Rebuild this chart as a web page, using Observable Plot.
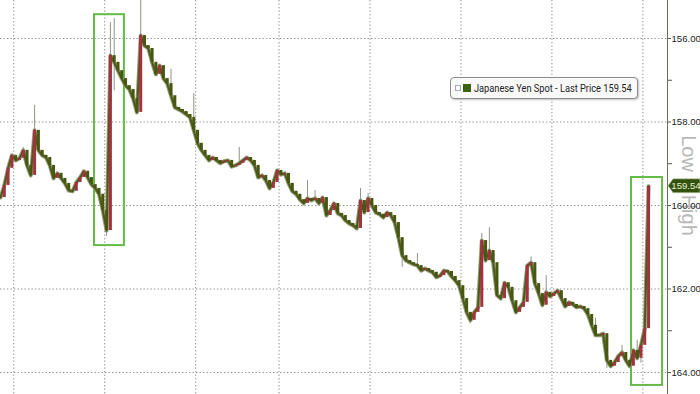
<!DOCTYPE html>
<html>
<head>
<meta charset="utf-8">
<script src="https://cdn.jsdelivr.net/npm/d3@7"></script>
<script src="https://cdn.jsdelivr.net/npm/@observablehq/plot@0.6"></script>
<style>
  html, body { margin: 0; padding: 0; background: #fff; }
  #wrap { position: relative; width: 700px; height: 394px; overflow: hidden; }
  #legend {
    position: absolute; left: 450px; top: 77px; width: 186px; height: 20px;
    border: 1px solid #8c8c8c; border-radius: 4px; background: #f9f9f9;
    box-shadow: 1px 1px 2px rgba(0,0,0,0.25);
    font-family: Roboto, "Liberation Sans", sans-serif; color: #222;
    display: flex; align-items: center; white-space: nowrap; overflow: hidden;
  }
  #legend .plus { flex: none; width: 4px; height: 4px; border: 1px solid #aaa; margin-left: 4px; margin-right: 2px; }
  #legend .sw { flex: none; width: 8px; height: 8px; background: #3a640c; margin-right: 3px; }
  #legend .tx { flex: none; font-size: 11px; transform: scaleX(0.84); transform-origin: left center; }
</style>
</head>
<body>
<div id="wrap"></div>
<script>
// Japanese Yen Spot (USDJPY), hourly closes (hour index 0..171)
const closes = [
  159.81,159.52,159.11,158.80,158.92,158.87,158.68,159.04,159.28,158.20,
  158.68,158.80,158.85,159.04,159.35,159.23,159.35,159.47,159.64,159.66,
  159.45,159.33,159.18,159.33,159.50,159.59,159.73,160.12,160.60,156.41,
  156.57,156.77,156.96,157.13,157.22,157.44,157.77,155.93,156.17,156.24,
  156.57,156.86,156.65,156.96,157.08,157.37,157.65,157.70,157.75,157.82,
  157.89,158.20,158.51,158.68,158.80,158.92,158.85,158.92,158.99,158.94,
  158.92,159.07,159.04,158.99,158.92,158.85,158.92,159.04,159.33,159.28,
  159.40,159.59,159.45,159.16,159.26,159.23,159.47,159.66,159.73,159.86,
  159.95,159.83,159.88,159.83,159.95,159.81,160.24,160.12,159.95,160.19,
  160.24,160.36,160.43,160.48,160.55,159.88,160.17,159.83,160.00,160.17,
  160.21,160.29,160.17,160.24,160.41,160.77,161.20,161.32,161.37,161.41,
  161.44,161.56,161.51,161.56,161.60,161.72,161.68,161.56,161.58,161.70,
  161.80,161.92,162.23,162.56,162.75,162.56,162.44,160.84,161.32,161.08,
  161.37,162.15,162.23,161.85,161.96,162.28,162.56,162.44,162.32,161.44,
  161.37,161.87,162.11,162.39,162.08,162.18,162.11,162.04,162.23,162.42,
  162.32,162.37,162.44,162.42,162.47,162.61,162.87,163.11,163.11,163.07,
  163.71,163.85,163.76,163.61,163.52,163.71,163.85,163.47,163.66,163.35,
  162.95,159.54
];
// Notable wick extremes (hour index, price)
const wickHours  = [6, 9, 28, 29, 30, 30, 37, 45, 51, 63, 81, 83, 95, 97, 106, 110, 124, 127, 129, 140, 144, 157, 160, 164, 168, 169];
const wickPrices = [158.61, 157.60, 160.74, 155.62, 155.52, 157.25, 155.09, 156.74, 157.32, 158.61, 159.40, 159.64, 159.59, 159.71, 161.48, 161.15, 162.83, 160.67, 160.53, 161.23, 161.68, 162.70, 163.90, 163.35, 163.23, 163.78];

const majorTicks = [156, 158, 160, 162, 164];
const minorTicks = [157, 159, 161, 163];
const dayLines = [3.5, 27.5, 51.5, 73.5, 97.5, 121.5, 145.5, 169.5];
const xDomain = [0, 176];

// highlighted intervention boxes
const boxStart = [24.8, 166.5];
const boxEnd   = [32.7, 174.7];
const boxTop   = [155.43, 159.33];
const boxBottom= [160.96, 164.31];

const seriesName = "Japanese Yen Spot - Last Price";
const lastPrice = closes[closes.length - 1];

const bars = closes.map((c, i) => ({h: i, open: i ? closes[i - 1] : c, close: c}));
const wicks = wickHours.map((h, i) => ({h, p: wickPrices[i], c: closes[h]}));
const boxes = boxStart.map((s, i) => ({x1: s, x2: boxEnd[i], y1: boxTop[i], y2: boxBottom[i]}));

const GREEN = "#46580f", RED = "#a3323e";

const chart = Plot.plot({
  width: 700, height: 394,
  marginLeft: 0, marginRight: 33, marginTop: 38, marginBottom: 22,
  x: {domain: xDomain, axis: null},
  y: {domain: [156, 164], reverse: true, axis: null},
  style: {background: "white", overflow: "hidden"},
  marks: [
    Plot.ruleY(majorTicks, {stroke: "#8a8a8a", strokeDasharray: "1.3,2.2", strokeWidth: 1}),
    Plot.ruleX(dayLines, {stroke: "#8a8a8a", strokeDasharray: "1.3,2.2", strokeWidth: 1, insetTop: -38, insetBottom: -22}),
    Plot.text(["Low = High"], {text: d => d, frameAnchor: "right", textAnchor: "middle", dx: 21, dy: -20, rotate: 90, fontSize: 20, fill: "#b8b8b8", fontFamily: "Liberation Sans, sans-serif"}),
    Plot.rect(boxes, {x1: "x1", x2: "x2", y1: "y1", y2: "y2", fill: "none", stroke: "#64bb48", strokeWidth: 2}),
    Plot.line(bars, {x: "h", y: "close", stroke: "#959d78", strokeWidth: 4, strokeLinejoin: "round"}),
    Plot.ruleX(wicks, {x: "h", y1: "p", y2: "c", stroke: "#8f9488", strokeWidth: 1}),
    Plot.line(bars, {x: "h", y: "close", stroke: "#4e5a1c", strokeWidth: 2}),
    Plot.ruleX(bars, {x: "h", y1: "open", y2: "close", stroke: d => d.close < d.open ? RED : GREEN, strokeWidth: 3}),
    Plot.ruleX([xDomain[1]], {stroke: "#6d6d55", strokeWidth: 1, insetTop: -38, insetBottom: -22}),
    Plot.axisY(majorTicks, {anchor: "right", tickSize: 3, tickPadding: 1, tickFormat: d3.format(".2f"), fontSize: 9.6, label: null, fill: "#222", stroke: "#555", fontFamily: "Liberation Sans, sans-serif"}),
    Plot.axisY(minorTicks, {anchor: "right", tickSize: 4, tickFormat: () => "", label: null, stroke: "#555"})
  ]
});

// last price tag on the axis
const yTag = chart.scale("y").apply(lastPrice);
const xAxis = chart.scale("x").apply(xDomain[1]);
const svg = d3.select(chart);
svg.append("path")
  .attr("d", `M${xAxis + 1},${yTag} L${xAxis + 6},${yTag - 7} L700,${yTag - 7} L700,${yTag + 7} L${xAxis + 6},${yTag + 7} Z`)
  .attr("fill", "#34520e").attr("stroke", "#c8d8b0").attr("stroke-width", 0.6);
svg.append("text")
  .attr("x", xAxis + 19).attr("y", yTag).attr("dy", "0.35em")
  .attr("text-anchor", "middle").attr("font-size", 9.6).attr("font-family", "Liberation Sans, sans-serif")
  .attr("fill", "#e6f2d2").text(lastPrice.toFixed(2));

const wrap = document.getElementById("wrap");
wrap.appendChild(chart);
const legend = document.createElement("div");
legend.id = "legend";
legend.innerHTML = `<span class="plus"></span><span class="sw"></span><span class="tx">${seriesName} ${lastPrice.toFixed(2)}</span>`;
wrap.appendChild(legend);
</script>
</body>
</html>
